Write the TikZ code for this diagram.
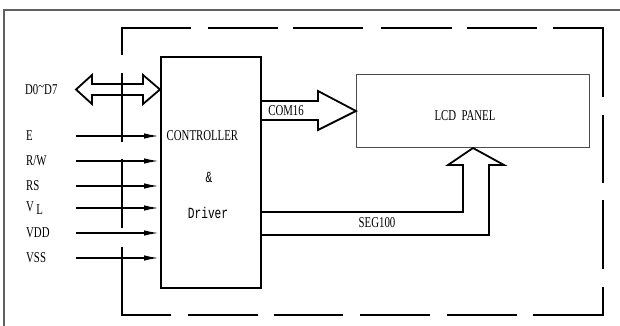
\documentclass[tikz,border=0pt]{standalone}
\usepackage{fontspec}
\setmainfont{Liberation Serif}[FakeStretch=0.72]
\newfontfamily\monof{Liberation Mono}[FakeStretch=0.72]
\usetikzlibrary{arrows.meta,calc}
\begin{document}
\begin{tikzpicture}[x=1pt,y=-1pt,
  txt/.style={inner sep=0pt,font=\fontsize{15}{16}\selectfont},
  mono/.style={inner sep=0pt,font=\fontsize{15.5}{16}\monof},
  frame/.style={line width=2pt,black},
  sig/.style={line width=1.9pt,-{Latex[length=16pt,width=5.5pt]}},
  bus/.style={line width=1.8pt,line join=miter},
  box/.style={draw,line width=2pt,inner sep=0pt}]
\useasboundingbox (0,0) rectangle (620,326);
\fill[white] (0,0) rectangle (620,326);
% outer border
\draw[gray!75!black,line width=1.4pt] (4,326) -- (4,10) -- (620,10);
% dashed module frame
\draw[frame] (122,55) -- (122,28) -- (191,28);
\draw[frame] (208,28) -- (278,28);
\draw[frame] (293,28) -- (363,28);
\draw[frame] (381,28) -- (452,28);
\draw[frame] (467,28) -- (537,28);
\draw[frame] (553,28) -- (603,28) -- (603,97);
\draw[frame] (603,115) -- (603,183);
\draw[frame] (603,200) -- (603,269);
\draw[frame] (603,287) -- (603,315) -- (533,315);
\draw[frame] (517,315) -- (447,315);
\draw[frame] (430,315) -- (360,315);
\draw[frame] (343,315) -- (274,315);
\draw[frame] (258,315) -- (188,315);
\draw[frame] (171,315) -- (122,315) -- (122,247);
\draw[frame] (122,228) -- (122,159);
\draw[frame] (122,142) -- (122,73);
% controller
\node[box,minimum width=100pt,minimum height=231pt,anchor=north west] (ctrl) at (160,56) {};
\node[txt,anchor=west] (t1) at (166.5,136) {CONTROLLER};
\node[mono] (t2) at (209,177) {\&};
\node[mono] (t3) at (208,213) {Driver};
% LCD panel
\node[draw=gray!60!black,line width=1pt,minimum width=233pt,minimum height=73pt,anchor=north west,inner sep=0pt] (lcd) at (356,74) {};
\node[txt] (t4) at (465,116) {LCD\ \ PANEL};
% data bus double arrow
\node[txt,anchor=west] (ld) at (25,89.5) {D0\raisebox{3pt}{\textasciitilde}D7};
\coordinate (dl) at (76,89.5);
\draw[bus] (dl) -- (92,75) -- (92,84) -- (143,84) -- (143,75) -- (ctrl.west |- dl)
  -- (143,104) -- (143,95) -- (92,95) -- (92,104) -- cycle;
% inputs
\foreach \n/\y/\lab in {e/136/{E}, rw/161/{R/W}, rs/186/{RS}, vl/208/{V\,\raisebox{-3pt}{L}}, vdd/233/{VDD}, vss/258/{VSS}}{
  \node[txt,anchor=west] (l\n) at (26,\y) {\lab};
  \coordinate (s\n) at (76,\y);
  \draw[sig] (s\n) -- (ctrl.west |- s\n);
}
% COM16
\draw[bus] (ctrl.east |- 0,101) -- (318,101) -- (318,91) -- (lcd.west) -- (318,130) -- (318,120) -- (ctrl.east |- 0,120);
\node[txt] (com) at (286,111) {COM16};
% SEG100
\draw[bus] (ctrl.east |- 0,212) -- (463,212) -- (463,165) -- (448,165) -- (lcd.south) -- (504,165) -- (489,165) -- (489,235) -- (ctrl.east |- 0,235);
\node[txt] (seg) at (377,223) {SEG100};
\end{tikzpicture}
\end{document}
